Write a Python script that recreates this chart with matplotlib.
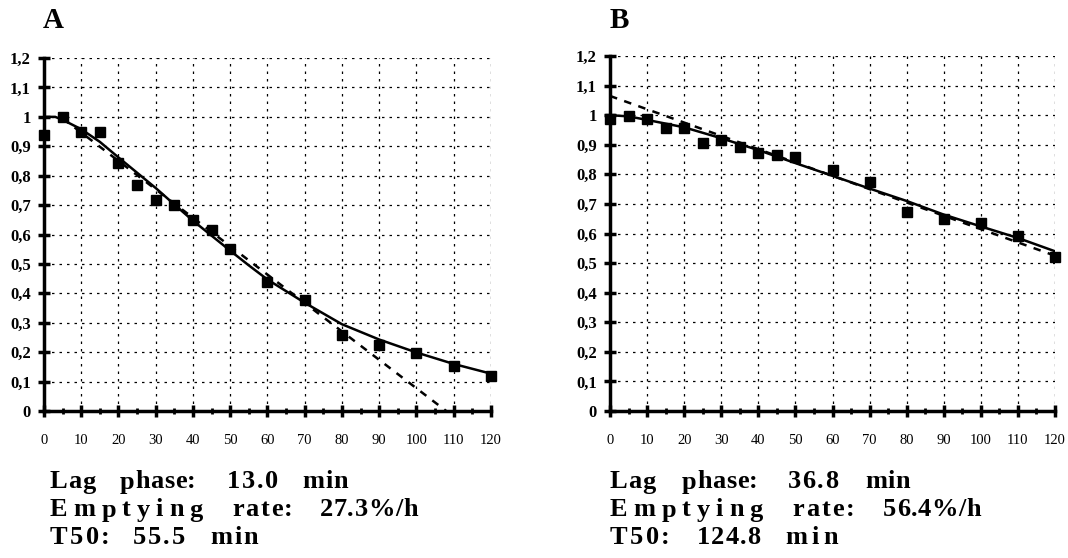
import numpy as np
import matplotlib.pyplot as plt
from matplotlib.ticker import MultipleLocator

plt.rcParams['font.family'] = ['Liberation Serif', 'DejaVu Serif']

# measured points
time_a = [0, 5, 10, 15, 20, 25, 30, 35, 40, 45, 50, 60, 70, 80, 90, 100, 110, 120]
ret_a = [0.94, 1.0, 0.95, 0.95, 0.843, 0.767, 0.718, 0.70, 0.65, 0.616, 0.55,
         0.44, 0.377, 0.258, 0.224, 0.198, 0.154, 0.119]
time_b = [0, 5, 10, 15, 20, 25, 30, 35, 40, 45, 50, 60, 70, 80, 90, 100, 110, 120]
ret_b = [0.987, 0.997, 0.988, 0.958, 0.958, 0.905, 0.916, 0.891, 0.871, 0.865, 0.86,
         0.815, 0.775, 0.672, 0.649, 0.634, 0.593, 0.52]

# fitted curves
fit_t_a = [0, 3, 5, 10, 15, 20, 25, 30, 35, 40, 45, 50, 55, 60, 70, 80, 90, 100, 110, 120]
fit_y_a = [1.0, 1.0, 0.99, 0.958, 0.915, 0.862, 0.81, 0.758, 0.702, 0.647, 0.596, 0.545,
           0.495, 0.447, 0.368, 0.295, 0.243, 0.199, 0.16, 0.127]
fit_t_b = [0, 5, 10, 20, 30, 40, 50, 60, 70, 80, 90, 100, 110, 120]
fit_y_b = [1.0, 0.996, 0.984, 0.959, 0.922, 0.882, 0.838, 0.795, 0.752, 0.71, 0.664,
           0.624, 0.585, 0.54]

# linear (dashed) lines
lin_t_a = [5, 108]
lin_y_a = [0.995, 0.0]
lin_t_b = [0, 120]
lin_y_b = [1.065, 0.525]

ytick_vals = [0, 0.1, 0.2, 0.3, 0.4, 0.5, 0.6, 0.7, 0.8, 0.9, 1.0, 1.1, 1.2]
ytick_text = ['0', '0,1', '0,2', '0,3', '0,4', '0,5', '0,6', '0,7', '0,8', '0,9', '1', '1,1', '1,2']
xtick_vals = list(range(0, 121, 10))

info_a = [['Lag', 'phase:', '13.0', 'min'], ['Emptying', 'rate:', '27.3%/h'], ['T50:', '55.5', 'min']]
info_b = [['Lag', 'phase:', '36.8', 'min'], ['Emptying', 'rate:', '56.4%/h'], ['T50:', '124.8', 'min']]

# word boxes in pixels (left, right) for the spaced-out typewriter look
boxes_a = [[(50, 95), (120, 195), (227, 278), (302, 348)],
           [(50, 203), (232, 293), (320, 413)],
           [(50, 110), (133, 185), (210, 258)]]
boxes_b = [[(610, 655), (682, 757), (788, 838), (865, 910)],
           [(610, 763), (792, 855), (883, 970)],
           [(610, 670), (697, 760), (785, 838)]]
line_y = [482, 510, 538]

fig = plt.figure(figsize=(10.68, 5.58), dpi=100)
ax_a = fig.add_axes([0.0412, 0.2634, 0.4185, 0.6326])
ax_b = fig.add_axes([0.5712, 0.2634, 0.4166, 0.6362])


def style_panel(ax):
    ax.set_xlim(0, 120)
    ax.set_ylim(0, 1.2)
    ax.set_yticks(ytick_vals)
    ax.set_yticklabels(ytick_text)
    ax.set_xticks(xtick_vals)
    ax.xaxis.set_minor_locator(MultipleLocator(5))
    ax.grid(True, which='major', linestyle=(0, (2, 4)), color='black', linewidth=0.9)
    for s in ['top', 'right']:
        ax.spines[s].set_visible(False)
    for s in ['left', 'bottom']:
        ax.spines[s].set_linewidth(2.5)
    ax.tick_params(which='major', direction='inout', length=9, width=2.5)
    ax.tick_params(axis='x', labelsize=10.5, pad=12)
    ax.tick_params(axis='y', labelsize=12, pad=5)
    ax.tick_params(which='minor', direction='inout', length=5, width=2)
    for lab in ax.get_yticklabels():
        lab.set_fontweight('bold')


for ax, t, y, ft, fy, lt, ly in [(ax_a, time_a, ret_a, fit_t_a, fit_y_a, lin_t_a, lin_y_a),
                                 (ax_b, time_b, ret_b, fit_t_b, fit_y_b, lin_t_b, lin_y_b)]:
    style_panel(ax)
    ax.plot(ft, fy, color='black', linewidth=1.8)
    ax.plot(lt, ly, color='black', linewidth=1.8, linestyle=(0, (3, 3)))
    ax.plot(t, y, linestyle='none', marker='s', markersize=7.5, color='black', clip_on=False, zorder=5)

fig.text(43 / 1068, 1 - 21 / 558, 'A', fontsize=21, fontweight='bold', va='center')
fig.text(610 / 1068, 1 - 21 / 558, 'B', fontsize=21, fontweight='bold', va='center')

# spaced-out info lines: each word is stretched to fill its box
fig.canvas.draw()
renderer = fig.canvas.get_renderer()
for lines, boxes in [(info_a, boxes_a), (info_b, boxes_b)]:
    for words, wboxes, ypix in zip(lines, boxes, line_y):
        for word, (x0, x1) in zip(words, wboxes):
            chars = []
            for ch in word:
                tx = fig.text(0, 1 - ypix / 558, ch, fontsize=19, fontweight='bold', va='center')
                chars.append((tx, tx.get_window_extent(renderer).width))
            natural = sum(w for _, w in chars)
            gap = max(0.5, (x1 - x0 - natural) / max(1, len(chars) - 1))
            xpix = x0
            for tx, w in chars:
                tx.set_x(xpix / 1068)
                xpix += w + gap

fig.savefig('out.png', dpi=100)
